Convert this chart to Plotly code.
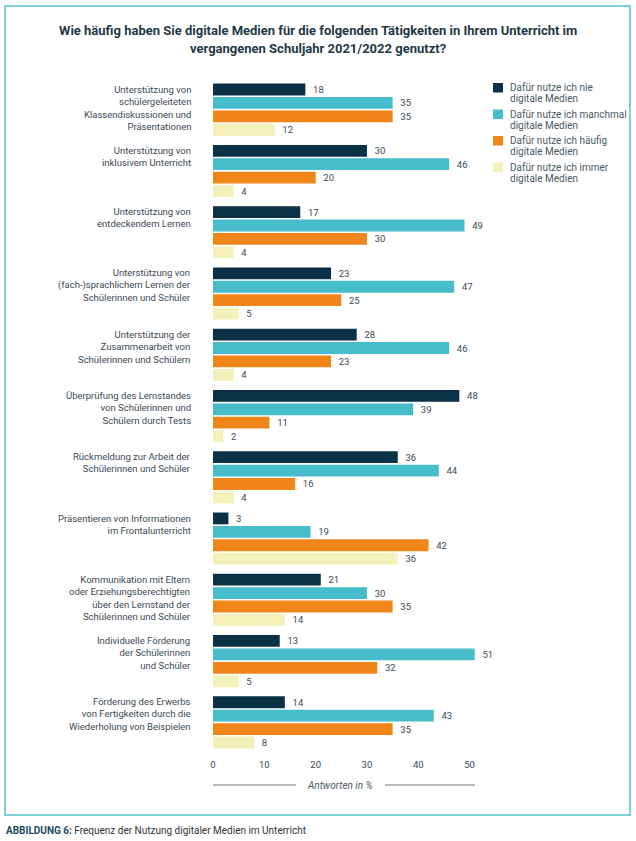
import plotly.graph_objects as go

# Data (values in %)
categories = [
    "Unterstützung von<br>schülergeleiteten<br>Klassendiskussionen und<br>Präsentationen",
    "Unterstützung von<br>inklusivem Unterricht",
    "Unterstützung von<br>entdeckendem Lernen",
    "Unterstützung von<br>(fach-)sprachlichem Lernen der<br>Schülerinnen und Schüler",
    "Unterstützung der<br>Zusammenarbeit von<br>Schülerinnen und Schülern",
    "Überprüfung des Lernstandes<br>von Schülerinnen und<br>Schülern durch Tests",
    "Rückmeldung zur Arbeit der<br>Schülerinnen und Schüler",
    "Präsentieren von Informationen<br>im Frontalunterricht",
    "Kommunikation mit Eltern<br>oder Erziehungsberechtigten<br>über den Lernstand der<br>Schülerinnen und Schüler",
    "Individuelle Förderung<br>der Schülerinnen<br>und Schüler",
    "Förderung des Erwerbs<br>von Fertigkeiten durch die<br>Wiederholung von Beispielen",
]
nie = [18, 30, 17, 23, 28, 48, 36, 3, 21, 13, 14]
manchmal = [35, 46, 49, 47, 46, 39, 44, 19, 30, 51, 43]
haeufig = [35, 20, 30, 25, 23, 11, 16, 42, 35, 32, 35]
immer = [12, 4, 4, 5, 4, 2, 4, 36, 14, 5, 8]

series_names = [
    "Dafür nutze ich nie<br>digitale Medien",
    "Dafür nutze ich manchmal<br>digitale Medien",
    "Dafür nutze ich häufig<br>digitale Medien",
    "Dafür nutze ich immer<br>digitale Medien",
]
series_values = [nie, manchmal, haeufig, immer]
colors = ["#0b3147", "#47bccb", "#f08519", "#f4f0b9"]

tick_vals = [0, 10, 20, 30, 40, 50]

FONT = "Roboto"
TEXT = "#3b4a55"
SOFT = "#4a5a66"

# page geometry (pixels) -> paper coordinates
W, H = 636, 841
L, R, T, B = 213, 151, 79, 88
PW, PH = W - L - R, H - T - B


def px(x):
    return (x - L) / PW


def py(y):
    return (H - B - y) / PH


fig = go.Figure()
for name, vals, col in zip(series_names, series_values, colors):
    fig.add_trace(go.Bar(
        y=categories, x=vals, name=name, orientation="h",
        marker=dict(color=col, line=dict(width=0)),
        text=vals, texttemplate="  %{x}", textposition="outside",
        textfont=dict(size=9.5, color=TEXT, family=FONT),
        constraintext="none", cliponaxis=False, showlegend=False,
    ))

annotations = []
# category labels, top-aligned with each bar group
for cat in categories:
    annotations.append(dict(
        x=0, xref="paper", xshift=-20, xanchor="right",
        y=cat, yref="y", yanchor="top", yshift=28,
        text=cat, align="right", showarrow=False,
        font=dict(size=9.5, color=TEXT, family=FONT),
    ))

# title
for txt, yy in [("Wie häufig haben Sie digitale Medien für die folgenden Tätigkeiten in Ihrem Unterricht im", 30),
                ("vergangenen Schuljahr 2021/2022 genutzt?", 48)]:
    annotations.append(dict(
        x=px(318), y=py(yy), xref="paper", yref="paper", xanchor="center", yanchor="middle",
        text="<b>" + txt + "</b>", showarrow=False,
        font=dict(size=13, color="#1f3946", family=FONT),
    ))

# manual legend: square + two text lines per entry
shapes = []
for i, (name, col) in enumerate(zip(series_names, colors)):
    top = 83 + i * 26.5
    shapes.append(dict(type="rect", xref="paper", yref="paper",
                       x0=px(493), x1=px(503), y0=py(top), y1=py(top + 9.5),
                       fillcolor=col, line=dict(width=0)))
    for j, line in enumerate(name.split("<br>")):
        annotations.append(dict(
            x=px(508), y=py(top + 5 + j * 10.5), xref="paper", yref="paper",
            xanchor="left", yanchor="middle",
            text=line, align="left", showarrow=False,
            font=dict(size=10, color=SOFT, family=FONT),
        ))

# axis title with side rules
annotations.append(dict(
    x=px(340), y=py(785), xref="paper", yref="paper", xanchor="center", yanchor="middle",
    text="<i>Antworten in %</i>", showarrow=False,
    font=dict(size=10, color=SOFT, family=FONT),
))
for x0, x1 in [(213, 296), (385, 475)]:
    shapes.append(dict(type="line", xref="paper", yref="paper",
                       x0=px(x0), x1=px(x1), y0=py(785), y1=py(785),
                       line=dict(color="#6a7a85", width=1)))

# frame and caption
shapes.append(dict(type="rect", xref="paper", yref="paper",
                   x0=px(5), x1=px(630), y0=py(6), y1=py(815),
                   line=dict(color="#7fd0dc", width=2), fillcolor="rgba(0,0,0,0)"))
annotations.append(dict(
    x=px(4), y=py(830), xref="paper", yref="paper", xanchor="left", yanchor="middle",
    text="<b><span style='color:#1d4a5e'>ABBILDUNG 6:</span></b> Frequenz der Nutzung digitaler Medien im Unterricht",
    showarrow=False, font=dict(size=10, color="#333", family=FONT),
))

fig.update_layout(
    width=W, height=H,
    margin=dict(l=L, r=R, t=T, b=B),
    barmode="group", bargap=0.124, bargroupgap=0.12,
    plot_bgcolor="white", paper_bgcolor="white",
    font=dict(family=FONT, color=TEXT),
    xaxis=dict(range=[0, 53], tickvals=tick_vals, showgrid=False, zeroline=False,
               showline=False, ticks="", ticklabelstandoff=4,
               tickfont=dict(size=9.5, color=TEXT)),
    yaxis=dict(autorange="reversed", showticklabels=False, showgrid=False,
               zeroline=False, showline=False, ticks=""),
    annotations=annotations, shapes=shapes,
    showlegend=False,
)

# drop the default page margin so the figure sits at the window's top-left corner
fig.write_html("out.html", config={"displayModeBar": False},
               post_script="document.body.style.margin='0';document.body.style.overflow='hidden';")
